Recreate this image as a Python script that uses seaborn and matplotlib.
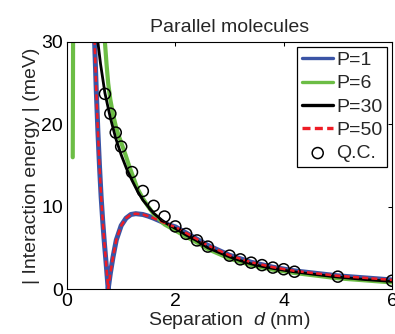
import matplotlib
matplotlib.use("Agg")
import matplotlib.pyplot as plt
import seaborn as sns

# ---- data ----
d_qc = [0.7, 0.8, 0.9, 1.0, 1.2, 1.4, 1.6, 1.8, 2.0, 2.2, 2.4, 2.6,
        3.0, 3.2, 3.4, 3.6, 3.8, 4.0, 4.2, 5.0, 6.0]
e_qc = [23.7, 21.3, 19.0, 17.3, 14.2, 11.9, 10.1, 8.8, 7.6, 6.7, 5.9, 5.15,
        4.05, 3.6, 3.2, 2.9, 2.6, 2.4, 2.1, 1.5, 1.0]

# P=1 (P=50 coincides)
d_p1 = [0.50, 0.51, 0.54, 0.57, 0.60, 0.63, 0.66, 0.69, 0.72, 0.76,
        0.80, 0.85, 0.91, 1.00, 1.09, 1.18, 1.27, 1.40, 1.50, 1.60, 1.74,
        1.87, 2.00, 2.20, 2.40, 2.60, 3.00, 3.40, 3.80, 4.20, 5.00, 6.00]
e_p1 = [31.5, 30.0, 24.2, 19.2, 14.9, 11.2, 8.2, 5.6, 3.3, 0.0,
        1.9, 3.9, 5.95, 7.7, 8.6, 9.05, 9.15, 9.05, 8.85, 8.6, 8.2,
        7.8, 7.55, 6.8, 6.05, 5.3, 4.1, 3.25, 2.65, 2.2, 1.6, 1.1]
d_p50 = d_p1
e_p50 = e_p1

# P=6: two branches
d_p6a = [0.106, 0.108, 0.110, 0.112, 0.113]
e_p6a = [16.0, 20.0, 25.0, 30.0, 31.5]
d_p6b = [0.695, 0.70, 0.73, 0.76, 0.80, 0.85, 0.90, 0.95, 1.00, 1.08, 1.15,
         1.20, 1.30, 1.40, 1.50, 1.60, 1.80, 2.00, 2.20, 2.40, 2.60, 3.00,
         3.40, 3.80, 4.20, 5.00, 6.00]
e_p6b = [31.5, 30.0, 27.3, 25.0, 23.0, 21.2, 19.8, 18.7, 17.8, 16.3, 14.9,
         14.0, 12.2, 11.0, 10.0, 9.1, 7.85, 7.1, 6.35, 5.65, 4.85, 3.7,
         2.9, 2.35, 1.95, 1.3, 0.8]

# P=30
d_p30 = [0.56, 0.57, 0.62, 0.70, 0.80, 0.90, 1.00, 1.10, 1.20, 1.30, 1.40,
         1.60, 1.80, 2.00, 2.20, 2.40, 2.60, 2.80, 3.00, 3.20, 3.40, 3.60,
         3.80, 4.00, 4.20, 4.60, 5.00, 5.50, 6.00]
e_p30 = [31.5, 30.0, 27.3, 23.8, 20.8, 18.3, 16.3, 14.6, 13.2, 11.9, 10.8,
         9.2, 8.1, 7.35, 6.55, 5.85, 5.0, 4.45, 3.9, 3.45, 3.05, 2.75,
         2.5, 2.28, 2.08, 1.75, 1.45, 1.15, 0.92]

x_ticks = [0, 2, 4, 6]
y_ticks = [0, 10, 20, 30]

# ---- style ----
sns.set_theme(style="white")
plt.rcParams["font.family"] = ["Liberation Sans", "DejaVu Sans"]
plt.rcParams["mathtext.fontset"] = "custom"
plt.rcParams["mathtext.it"] = "Liberation Sans:italic"
plt.rcParams["mathtext.rm"] = "Liberation Sans"

FS = 14
fig = plt.figure(figsize=(3.95, 3.34), dpi=100)
ax = fig.add_axes([67 / 395, 1 - 289 / 334, (392 - 67) / 395, (289 - 42) / 334])

blue = "#3b54a5"
green = "#6cbd45"
red = "#ee1c25"

sns.lineplot(x=d_p1, y=e_p1, sort=False, estimator=None, color=blue,
             lw=3.6, ax=ax, label="P=1")
sns.lineplot(x=d_p6a, y=e_p6a, sort=False, estimator=None, color=green,
             lw=3.0, ax=ax, solid_capstyle="round")
sns.lineplot(x=d_p6b, y=e_p6b, sort=False, estimator=None, color=green,
             lw=3.0, ax=ax, label="P=6")
sns.lineplot(x=d_p30, y=e_p30, sort=False, estimator=None, color="black",
             lw=2.0, ax=ax, label="P=30")
sns.lineplot(x=d_p50, y=e_p50, sort=False, estimator=None, color=red,
             lw=1.8, ax=ax, label="P=50", dashes=False)
ax.lines[-1].set_dashes((2.4, 1.3))
sns.scatterplot(x=d_qc, y=e_qc, marker="o", s=63, ax=ax, label="Q.C.",
                color="black", zorder=5)
pts = ax.collections[-1]
pts.set_facecolor("none")
pts.set_edgecolor("black")
pts.set_linewidth(1.1)

ax.set_xlim(0, 6)
ax.set_ylim(0, 30)
ax.set_xticks(x_ticks)
ax.set_yticks(y_ticks)
ax.tick_params(direction="in", top=True, right=True, length=3, width=0.75,
               labelsize=FS, colors="black", pad=3)
ax.tick_params(axis="x", pad=3)
for s in ax.spines.values():
    s.set_linewidth(0.8)
    s.set_color("black")

ax.set_title("Parallel molecules", fontsize=FS, pad=7)
ax.set_xlabel("Separation  $d$ (nm)", fontsize=FS, labelpad=0)
ax.set_ylabel("| Interaction energy | (meV)", fontsize=FS, labelpad=1)

leg = ax.legend(loc="upper right", bbox_to_anchor=(0.9855, 0.981),
                borderaxespad=0, fontsize=FS, frameon=True, fancybox=False,
                framealpha=1, edgecolor="black", handlelength=1.6,
                handletextpad=0.15, labelspacing=0.29, borderpad=0.25)
leg.get_frame().set_linewidth(0.9)
for h in leg.legend_handles[:4]:
    h.set_linewidth(2.4)

fig.savefig("out.png", dpi=100)
